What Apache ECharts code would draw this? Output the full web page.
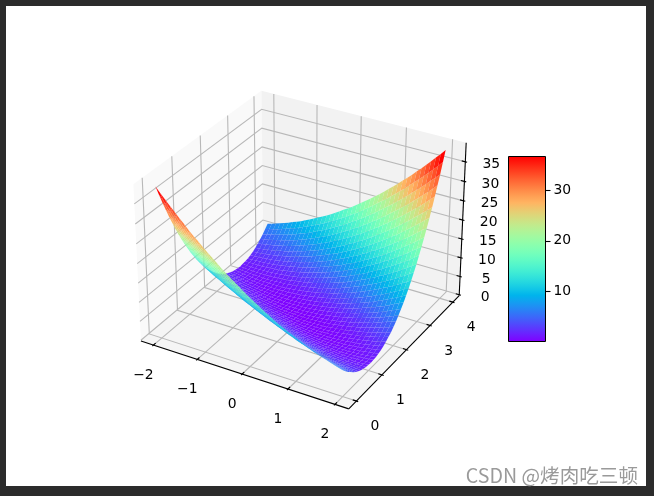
<!DOCTYPE html>
<html><head><meta charset="utf-8"><style>html,body{margin:0;padding:0;background:#2b2b2b}#c{width:654px;height:496px}</style>
<script src="https://cdn.jsdelivr.net/npm/echarts@6/dist/echarts.min.js"></script></head><body><div id="c"></div><script>
const xGrid=[-2,-1.9,-1.8,-1.7,-1.6,-1.5,-1.4,-1.3,-1.2,-1.1,-1,-0.9,-0.8,-0.7,-0.6,-0.5,-0.4,-0.3,-0.2,-0.1,0,0.1,0.2,0.3,0.4,0.5,0.6,0.7,0.8,0.9,1,1.1,1.2,1.3,1.4,1.5,1.6,1.7,1.8,1.9,2];
const yGrid=[0,0.1,0.2,0.3,0.4,0.5,0.6,0.7,0.8,0.9,1,1.1,1.2,1.3,1.4,1.5,1.6,1.7,1.8,1.9,2,2.1,2.2,2.3,2.4,2.5,2.6,2.7,2.8,2.9,3,3.1,3.2,3.3,3.4,3.5,3.6,3.7,3.8,3.9,4];
const zRows=[
[38.6,37.3,36.1,34.9,33.7,32.5,31.4,30.2,29.1,28.1,27,26,25,24,23,22.1,21.2,20.3,19.5,18.6,17.8,17,16.3,15.5,14.8,14.1,13.4,12.8,12.2,11.6,11,10.5,9.9,9.4,9,8.5,8.1,7.7,7.3,6.9,6.6],
[36.1,34.8,33.6,32.5,31.3,30.2,29.1,28,26.9,25.9,24.9,23.9,22.9,22,21.1,20.2,19.3,18.5,17.6,16.8,16.1,15.3,14.6,13.9,13.2,12.6,11.9,11.3,10.8,10.2,9.7,9.2,8.7,8.2,7.8,7.4,7,6.6,6.3,6,5.7],
[33.6,32.4,31.3,30.1,29,27.9,26.9,25.8,24.8,23.8,22.8,21.9,21,20.1,19.2,18.3,17.5,16.7,15.9,15.2,14.4,13.7,13,12.4,11.7,11.1,10.5,10,9.4,8.9,8.4,8,7.5,7.1,6.7,6.3,6,5.7,5.4,5.1,4.8],
[31.3,30.1,29,27.9,26.8,25.8,24.7,23.7,22.8,21.8,20.9,20,19.1,18.2,17.4,16.6,15.8,15,14.3,13.6,12.9,12.2,11.6,10.9,10.3,9.8,9.2,8.7,8.2,7.7,7.3,6.8,6.4,6.1,5.7,5.4,5.1,4.8,4.5,4.3,4.1],
[29,27.9,26.8,25.7,24.7,23.7,22.7,21.7,20.8,19.9,19,18.1,17.3,16.5,15.7,14.9,14.1,13.4,12.7,12,11.4,10.8,10.2,9.6,9,8.5,8,7.5,7,6.6,6.2,5.8,5.4,5.1,4.8,4.5,4.2,4,3.8,3.6,3.4],
[26.8,25.7,24.7,23.7,22.7,21.7,20.8,19.8,18.9,18.1,17.2,16.4,15.6,14.8,14,13.3,12.6,11.9,11.3,10.6,10,9.4,8.9,8.3,7.8,7.3,6.8,6.4,6,5.6,5.2,4.9,4.5,4.2,4,3.7,3.5,3.3,3.1,2.9,2.8],
[24.7,23.7,22.7,21.7,20.8,19.8,18.9,18,17.2,16.3,15.5,14.7,14,13.2,12.5,11.8,11.2,10.5,9.9,9.3,8.7,8.2,7.7,7.2,6.7,6.2,5.8,5.4,5,4.7,4.3,4,3.7,3.5,3.2,3,2.8,2.7,2.5,2.4,2.3],
[22.7,21.7,20.8,19.8,18.9,18,17.2,16.3,15.5,14.7,13.9,13.2,12.5,11.8,11.1,10.4,9.8,9.2,8.6,8.1,7.5,7,6.5,6.1,5.6,5.2,4.8,4.5,4.1,3.8,3.5,3.3,3,2.8,2.6,2.4,2.3,2.2,2.1,2,1.9],
[20.8,19.9,18.9,18,17.2,16.3,15.5,14.7,13.9,13.1,12.4,11.7,11,10.4,9.7,9.1,8.5,8,7.4,6.9,6.4,5.9,5.5,5.1,4.7,4.3,4,3.6,3.3,3.1,2.8,2.6,2.4,2.2,2,1.9,1.8,1.7,1.7,1.6,1.6],
[19,18.1,17.2,16.3,15.5,14.7,13.9,13.1,12.4,11.7,11,10.3,9.7,9,8.5,7.9,7.3,6.8,6.3,5.8,5.4,5,4.6,4.2,3.8,3.5,3.2,2.9,2.6,2.4,2.2,2,1.8,1.7,1.6,1.5,1.4,1.4,1.4,1.4,1.4],
[17.3,16.4,15.5,14.7,13.9,13.2,12.4,11.7,11,10.3,9.7,9,8.4,7.8,7.3,6.8,6.2,5.8,5.3,4.9,4.5,4.1,3.7,3.4,3,2.8,2.5,2.2,2,1.8,1.7,1.5,1.4,1.3,1.2,1.2,1.1,1.1,1.1,1.2,1.3],
[15.6,14.8,14,13.2,12.4,11.7,11,10.3,9.7,9,8.4,7.8,7.3,6.7,6.2,5.7,5.2,4.8,4.4,4,3.6,3.3,2.9,2.6,2.4,2.1,1.9,1.7,1.5,1.3,1.2,1.1,1,1,0.9,0.9,0.9,1,1,1.1,1.2],
[14.1,13.3,12.5,11.8,11,10.4,9.7,9,8.4,7.8,7.3,6.7,6.2,5.7,5.2,4.8,4.3,3.9,3.5,3.2,2.9,2.5,2.3,2,1.8,1.6,1.4,1.2,1.1,0.9,0.9,0.8,0.7,0.7,0.7,0.8,0.8,0.9,1,1.1,1.3],
[12.6,11.8,11.1,10.4,9.7,9.1,8.5,7.9,7.3,6.7,6.2,5.7,5.2,4.7,4.3,3.9,3.5,3.1,2.8,2.5,2.2,1.9,1.7,1.5,1.3,1.1,0.9,0.8,0.7,0.6,0.6,0.6,0.6,0.6,0.6,0.7,0.8,0.9,1,1.2,1.4],
[11.2,10.5,9.8,9.2,8.5,7.9,7.3,6.8,6.2,5.7,5.2,4.7,4.3,3.9,3.5,3.1,2.8,2.4,2.1,1.9,1.6,1.4,1.2,1,0.8,0.7,0.6,0.5,0.5,0.4,0.4,0.4,0.5,0.5,0.6,0.7,0.8,1,1.2,1.4,1.6],
[9.9,9.2,8.6,8,7.4,6.8,6.3,5.7,5.2,4.8,4.3,3.9,3.5,3.1,2.7,2.4,2.1,1.8,1.6,1.3,1.1,0.9,0.8,0.6,0.5,0.4,0.3,0.3,0.3,0.3,0.3,0.4,0.4,0.5,0.7,0.8,1,1.2,1.4,1.6,1.9],
[8.7,8.1,7.5,6.9,6.3,5.8,5.3,4.8,4.4,3.9,3.5,3.1,2.8,2.4,2.1,1.8,1.5,1.3,1.1,0.9,0.7,0.6,0.4,0.3,0.3,0.2,0.2,0.2,0.2,0.2,0.3,0.4,0.5,0.7,0.8,1,1.2,1.5,1.7,2,2.3],
[7.6,7,6.5,5.9,5.4,4.9,4.4,4,3.6,3.2,2.8,2.5,2.1,1.8,1.6,1.3,1.1,0.9,0.7,0.5,0.4,0.3,0.2,0.2,0.1,0.1,0.1,0.2,0.2,0.3,0.4,0.5,0.7,0.9,1.1,1.3,1.6,1.8,2.1,2.5,2.8],
[6.6,6,5.5,5,4.5,4.1,3.7,3.3,2.9,2.5,2.2,1.9,1.6,1.3,1.1,0.9,0.7,0.5,0.4,0.3,0.2,0.1,0.1,0.1,0.1,0.1,0.1,0.2,0.3,0.4,0.6,0.8,1,1.2,1.4,1.7,2,2.3,2.6,3,3.4],
[5.6,5.1,4.7,4.2,3.8,3.3,3,2.6,2.3,1.9,1.6,1.4,1.1,0.9,0.7,0.5,0.4,0.3,0.2,0.1,0,0,0,0,0.1,0.1,0.2,0.4,0.5,0.7,0.8,1.1,1.3,1.6,1.8,2.1,2.5,2.8,3.2,3.6,4],
[4.8,4.3,3.9,3.5,3.1,2.7,2.4,2,1.7,1.5,1.2,1,0.8,0.6,0.4,0.3,0.2,0.1,0.1,0,0,0,0.1,0.1,0.2,0.3,0.4,0.6,0.8,1,1.2,1.5,1.7,2,2.4,2.7,3.1,3.5,3.9,4.3,4.8],
[4,3.6,3.2,2.8,2.5,2.1,1.8,1.6,1.3,1.1,0.8,0.7,0.5,0.4,0.2,0.1,0.1,0,0,0,0,0.1,0.2,0.3,0.4,0.5,0.7,0.9,1.1,1.4,1.6,1.9,2.3,2.6,3,3.3,3.8,4.2,4.7,5.1,5.6],
[3.4,3,2.6,2.3,2,1.7,1.4,1.2,1,0.8,0.6,0.4,0.3,0.2,0.1,0.1,0.1,0.1,0.1,0.1,0.2,0.3,0.4,0.5,0.7,0.9,1.1,1.3,1.6,1.9,2.2,2.5,2.9,3.3,3.7,4.1,4.5,5,5.5,6,6.6],
[2.8,2.5,2.1,1.8,1.6,1.3,1.1,0.9,0.7,0.5,0.4,0.3,0.2,0.2,0.1,0.1,0.1,0.2,0.2,0.3,0.4,0.5,0.7,0.9,1.1,1.3,1.6,1.8,2.1,2.5,2.8,3.2,3.6,4,4.4,4.9,5.4,5.9,6.5,7,7.6],
[2.3,2,1.7,1.5,1.2,1,0.8,0.7,0.5,0.4,0.3,0.2,0.2,0.2,0.2,0.2,0.3,0.3,0.4,0.6,0.7,0.9,1.1,1.3,1.5,1.8,2.1,2.4,2.8,3.1,3.5,3.9,4.4,4.8,5.3,5.8,6.3,6.9,7.5,8.1,8.7],
[1.9,1.6,1.4,1.2,1,0.8,0.7,0.5,0.4,0.4,0.3,0.3,0.3,0.3,0.3,0.4,0.5,0.6,0.8,0.9,1.1,1.3,1.6,1.8,2.1,2.4,2.7,3.1,3.5,3.9,4.3,4.8,5.2,5.7,6.3,6.8,7.4,8,8.6,9.2,9.9],
[1.6,1.4,1.2,1,0.8,0.7,0.6,0.5,0.5,0.4,0.4,0.4,0.5,0.5,0.6,0.7,0.8,1,1.2,1.4,1.6,1.9,2.1,2.4,2.8,3.1,3.5,3.9,4.3,4.7,5.2,5.7,6.2,6.8,7.3,7.9,8.5,9.2,9.8,10.5,11.2],
[1.4,1.2,1,0.9,0.8,0.7,0.6,0.6,0.6,0.6,0.6,0.6,0.7,0.8,0.9,1.1,1.3,1.5,1.7,1.9,2.2,2.5,2.8,3.1,3.5,3.9,4.3,4.7,5.2,5.7,6.2,6.7,7.3,7.9,8.5,9.1,9.7,10.4,11.1,11.8,12.6],
[1.3,1.1,1,0.9,0.8,0.8,0.7,0.7,0.7,0.8,0.9,0.9,1.1,1.2,1.4,1.6,1.8,2,2.3,2.5,2.9,3.2,3.5,3.9,4.3,4.8,5.2,5.7,6.2,6.7,7.3,7.8,8.4,9,9.7,10.4,11,11.8,12.5,13.3,14.1],
[1.2,1.1,1,1,0.9,0.9,0.9,1,1,1.1,1.2,1.3,1.5,1.7,1.9,2.1,2.4,2.6,2.9,3.3,3.6,4,4.4,4.8,5.2,5.7,6.2,6.7,7.3,7.8,8.4,9,9.7,10.3,11,11.7,12.4,13.2,14,14.8,15.6],
[1.3,1.2,1.1,1.1,1.1,1.2,1.2,1.3,1.4,1.5,1.7,1.8,2,2.2,2.5,2.8,3,3.4,3.7,4.1,4.5,4.9,5.3,5.8,6.2,6.8,7.3,7.8,8.4,9,9.7,10.3,11,11.7,12.4,13.2,13.9,14.7,15.5,16.4,17.3],
[1.4,1.4,1.4,1.4,1.4,1.5,1.6,1.7,1.8,2,2.2,2.4,2.6,2.9,3.2,3.5,3.8,4.2,4.6,5,5.4,5.8,6.3,6.8,7.3,7.9,8.5,9,9.7,10.3,11,11.7,12.4,13.1,13.9,14.7,15.5,16.3,17.2,18.1,19],
[1.6,1.6,1.7,1.7,1.8,1.9,2,2.2,2.4,2.6,2.8,3.1,3.3,3.6,4,4.3,4.7,5.1,5.5,5.9,6.4,6.9,7.4,8,8.5,9.1,9.7,10.4,11,11.7,12.4,13.1,13.9,14.7,15.5,16.3,17.2,18,18.9,19.9,20.8],
[1.9,2,2.1,2.2,2.3,2.4,2.6,2.8,3,3.3,3.5,3.8,4.1,4.5,4.8,5.2,5.6,6.1,6.5,7,7.5,8.1,8.6,9.2,9.8,10.4,11.1,11.8,12.5,13.2,13.9,14.7,15.5,16.3,17.2,18,18.9,19.8,20.8,21.7,22.7],
[2.3,2.4,2.5,2.7,2.8,3,3.2,3.5,3.7,4,4.3,4.7,5,5.4,5.8,6.2,6.7,7.2,7.7,8.2,8.7,9.3,9.9,10.5,11.2,11.8,12.5,13.2,14,14.7,15.5,16.3,17.2,18,18.9,19.8,20.8,21.7,22.7,23.7,24.7],
[2.8,2.9,3.1,3.3,3.5,3.7,4,4.2,4.5,4.9,5.2,5.6,6,6.4,6.8,7.3,7.8,8.3,8.9,9.4,10,10.6,11.3,11.9,12.6,13.3,14,14.8,15.6,16.4,17.2,18.1,18.9,19.8,20.8,21.7,22.7,23.7,24.7,25.7,26.8],
[3.4,3.6,3.8,4,4.2,4.5,4.8,5.1,5.4,5.8,6.2,6.6,7,7.5,8,8.5,9,9.6,10.2,10.8,11.4,12,12.7,13.4,14.1,14.9,15.7,16.5,17.3,18.1,19,19.9,20.8,21.7,22.7,23.7,24.7,25.7,26.8,27.9,29],
[4.1,4.3,4.5,4.8,5.1,5.4,5.7,6.1,6.4,6.8,7.3,7.7,8.2,8.7,9.2,9.8,10.3,10.9,11.6,12.2,12.9,13.6,14.3,15,15.8,16.6,17.4,18.2,19.1,20,20.9,21.8,22.8,23.7,24.7,25.8,26.8,27.9,29,30.1,31.3],
[4.8,5.1,5.4,5.7,6,6.3,6.7,7.1,7.5,8,8.4,8.9,9.4,10,10.5,11.1,11.7,12.4,13,13.7,14.4,15.2,15.9,16.7,17.5,18.3,19.2,20.1,21,21.9,22.8,23.8,24.8,25.8,26.9,27.9,29,30.1,31.3,32.4,33.6],
[5.7,6,6.3,6.6,7,7.4,7.8,8.2,8.7,9.2,9.7,10.2,10.8,11.3,11.9,12.6,13.2,13.9,14.6,15.3,16.1,16.8,17.6,18.5,19.3,20.2,21.1,22,22.9,23.9,24.9,25.9,26.9,28,29.1,30.2,31.3,32.5,33.6,34.8,36.1],
[6.6,6.9,7.3,7.7,8.1,8.5,9,9.4,9.9,10.5,11,11.6,12.2,12.8,13.4,14.1,14.8,15.5,16.3,17,17.8,18.6,19.5,20.3,21.2,22.1,23,24,25,26,27,28.1,29.1,30.2,31.4,32.5,33.7,34.9,36.1,37.3,38.6]];
const xTicks=[-2,-1,0,1,2];
const yTicks=[0,1,2,3,4];
const zTicks=[0,5,10,15,20,25,30,35];
const barTicks=[10,20,30];
const barMin=0, barMax=36.75;
const xLim=[-2.29,2.29], yLim=[-0.29,4.29], zLim=[-0.2,39.8];

const FONT='"DejaVu Sans"';
function rainbow(t){t=Math.max(0,Math.min(1,t));
  const r=Math.min(1,Math.abs(2*t-0.5)),g=Math.sin(Math.PI*t),b=Math.cos(Math.PI*t/2);
  return 'rgb('+Math.round(r*255)+','+Math.round(g*255)+','+Math.round(b*255)+')';}
// matplotlib's default 3D view: elev 30, azim -60, dist 10, box aspect 4:4:3
const BX=1.1905,BZ=0.8929;
function rel(x,y,z){return [((x-xLim[0])/(xLim[1]-xLim[0])-0.5)*BX,((y-yLim[0])/(yLim[1]-yLim[0])-0.5)*BX,((z-zLim[0])/(zLim[1]-zLim[0])-0.5)*BZ];}
function depth(x,y,z){const d=rel(x,y,z);return 0.4330127*d[0]-0.75*d[1]+0.5*d[2];}
function plane(x,y,z){const d=rel(x,y,z);
  const u=0.8660254*d[0]+0.5*d[1], v=-0.25*d[0]+0.4330127*d[1]+0.8660254*d[2];
  const f=10/(10-depth(x,y,z));
  return [303+200*u*f,242.2-200*v*f];}

const cells=[];
for(let j=0;j<yGrid.length-1;j++)for(let i=0;i<xGrid.length-1;i++){
  const zavg=(zRows[j][i]+zRows[j][i+1]+zRows[j+1][i]+zRows[j+1][i+1])/4;
  cells.push({value:[i,j,zavg],dep:depth((xGrid[i]+xGrid[i+1])/2,(yGrid[j]+yGrid[j+1])/2,zavg)});
}
cells.sort((a,b)=>a.dep-b.dep);
const surfaceData=cells.map(c=>c.value);

const GRID='#b8b8b8';
function line(api,pts,color,w,z2){return {type:'polyline',silent:true,z2:z2||0,shape:{points:pts.map(p=>api.coord(plane(p[0],p[1],p[2])))},style:{stroke:color,lineWidth:w,fill:null}};}
function pane(api,pts,fill){return {type:'polygon',silent:true,shape:{points:pts.map(p=>api.coord(plane(p[0],p[1],p[2])))},style:{fill:fill}};}
function label(api,p,dx,dy,txt){const c=api.coord(plane(p[0],p[1],p[2]));
  return {type:'text',silent:true,style:{text:txt,x:c[0]+dx,y:c[1]+dy,fill:'#000',font:'13.9px '+FONT,align:'center',verticalAlign:'middle'}};}
const fmt=v=>String(v).replace('-','\u2212');
const [x0,x1]=xLim,[y0,y1]=yLim,[z0,z1]=zLim;

function renderBox(params,api){
  const ch=[
    pane(api,[[x0,y0,z0],[x0,y1,z0],[x0,y1,z1],[x0,y0,z1]],'#f9f9f9'),
    pane(api,[[x0,y1,z0],[x1,y1,z0],[x1,y1,z1],[x0,y1,z1]],'#f2f2f2'),
    pane(api,[[x0,y0,z0],[x1,y0,z0],[x1,y1,z0],[x0,y1,z0]],'#f5f5f5')];
  xTicks.forEach(t=>ch.push(line(api,[[t,y0,z0],[t,y1,z0],[t,y1,z1]],GRID,1.1)));
  yTicks.forEach(t=>ch.push(line(api,[[x1,t,z0],[x0,t,z0],[x0,t,z1]],GRID,1.1)));
  zTicks.forEach(t=>ch.push(line(api,[[x0,y0,t],[x0,y1,t],[x1,y1,t]],GRID,1.1)));
  return {type:'group',children:ch};
}
function renderAxes(params,api){
  const ch=[
    line(api,[[x0,y0,z0],[x1,y0,z0]],'#000',1.1),
    line(api,[[x1,y0,z0],[x1,y1,z0]],'#000',1.1),
    line(api,[[x1,y1,z0],[x1,y1,z1]],'#000',1.1)];
  const dy=(y1-y0)/12,dx=(x1-x0)/12;
  xTicks.forEach(t=>{ch.push(line(api,[[t,y0+0.2*dy,z0],[t,y0-0.1*dy,z0]],'#000',1.1));ch.push(label(api,[t,y0,z0],-10,30.5,fmt(t)));});
  yTicks.forEach(t=>{ch.push(line(api,[[x1-0.2*dx,t,z0],[x1+0.1*dx,t,z0]],'#000',1.1));ch.push(label(api,[x1,t,z0],18.5,25.5,fmt(t)));});
  zTicks.forEach(t=>{ch.push(line(api,[[x1-0.2*dx,y1,t],[x1+0.1*dx,y1,t]],'#000',1.1));ch.push(label(api,[x1,y1,t],26,2.5,fmt(t)));});
  return {type:'group',children:ch};
}
function renderCell(params,api){
  const i=api.value(0),j=api.value(1),z=api.value(2);
  const c=[[i,j],[i+1,j],[i+1,j+1],[i,j+1]].map(q=>api.coord(plane(xGrid[q[0]],yGrid[q[1]],zRows[q[1]][q[0]])));
  return {type:'polygon',silent:true,z2:params.dataIndex,shape:{points:c},style:{fill:rainbow((z-barMin)/(barMax-barMin))}};
}
const stops=[];for(let k=0;k<=32;k++)stops.push({offset:k/32,color:rainbow(1-k/32)});

const chart=echarts.init(document.getElementById('c'),null,{renderer:'canvas'});
chart.setOption({
  animation:false,backgroundColor:'#2b2b2b',tooltip:{show:false},
  graphic:[
    {type:'rect',z:-10,silent:true,shape:{x:6,y:6,width:640,height:480},style:{fill:'#fff'}},
    {type:'text',z:100,silent:true,style:{text:'CSDN @\u70e4\u8089\u5403\u4e09\u987f',x:638,y:476,align:'right',verticalAlign:'middle',fill:'#9a9a9a',font:'19.6px "Noto Sans CJK SC"'}}
  ],
  grid:[{left:0,top:0,width:654,height:496,show:false},
        {left:508.5,top:156.5,width:37,height:185,show:true,borderColor:'#000',borderWidth:1,backgroundColor:'transparent',z:5}],
  xAxis:[{type:'value',gridIndex:0,min:0,max:654,show:false},
         {type:'category',gridIndex:1,data:['colorbar'],show:false}],
  yAxis:[{type:'value',gridIndex:0,min:0,max:496,inverse:true,show:false},
         {type:'value',gridIndex:1,min:barMin,max:barMax,position:'right',splitLine:{show:false},
          axisLine:{show:false},
          axisTick:{show:true,length:5,customValues:barTicks,lineStyle:{color:'#000',width:1.1}},
          axisLabel:{show:true,customValues:barTicks,margin:8,color:'#000',fontFamily:'DejaVu Sans',fontSize:13.9}}],
  series:[
    {type:'custom',name:'box',xAxisIndex:0,yAxisIndex:0,clip:false,silent:true,z:1,data:[[0,0]],renderItem:renderBox},
    {type:'custom',name:'surface',xAxisIndex:0,yAxisIndex:0,clip:false,silent:true,z:2,progressive:0,data:surfaceData,renderItem:renderCell},
    {type:'custom',name:'axes',xAxisIndex:0,yAxisIndex:0,clip:false,silent:true,z:3,data:[[0,0]],renderItem:renderAxes},
    {type:'bar',name:'colorbar',xAxisIndex:1,yAxisIndex:1,barWidth:'100%',silent:true,z:4,data:[barMax],
     itemStyle:{color:new echarts.graphic.LinearGradient(0,0,0,1,stops)}}
  ]
});
</script></body></html>
